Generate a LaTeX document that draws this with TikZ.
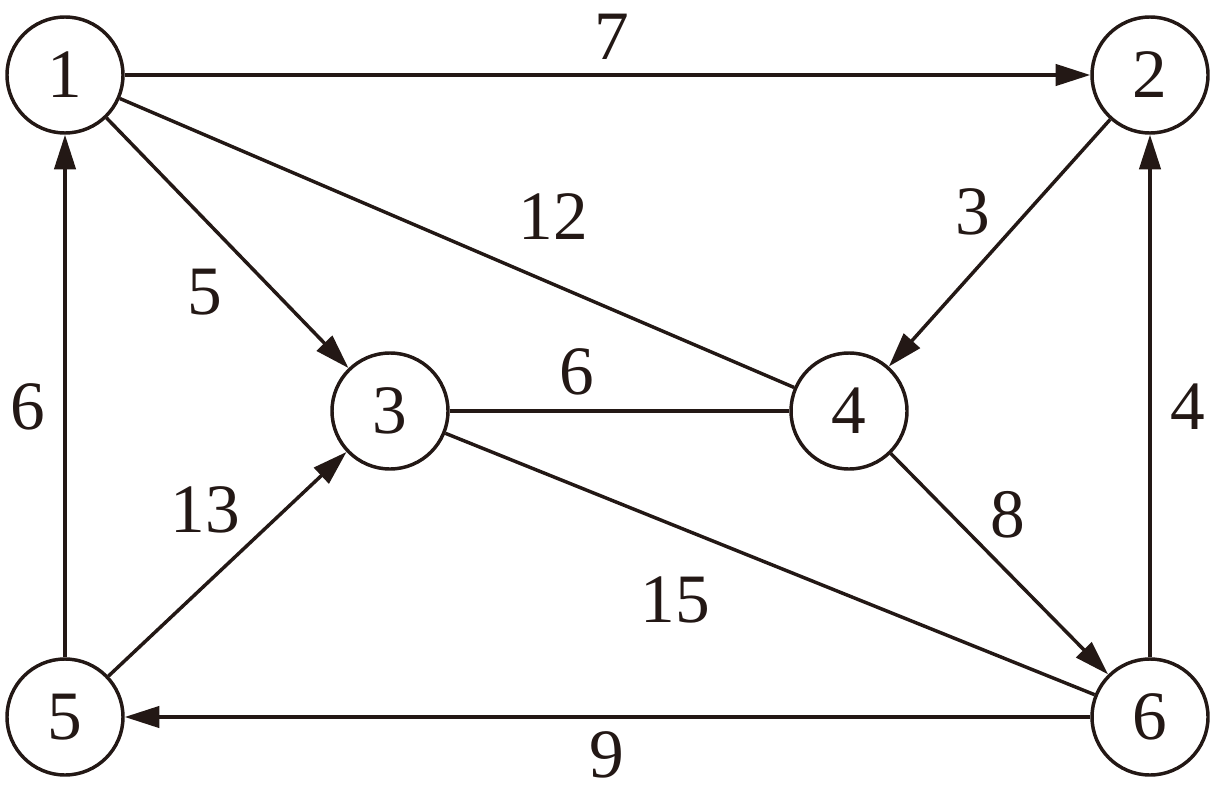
\documentclass[tikz,border=0pt]{standalone}
\usepackage{fontspec}
\setmainfont{Liberation Serif}
\usetikzlibrary{arrows.meta}
\definecolor{ink}{HTML}{231815}
\begin{document}
\begin{tikzpicture}[x=0.75pt,y=-0.75pt,
  vtx/.style={circle,draw=ink,line width=2.6pt,minimum size=87pt,inner sep=0pt,text=ink,font=\fontsize{52}{60}\selectfont},
  lbl/.style={text=ink,inner sep=0pt,font=\fontsize{52}{60}\selectfont},
  edge/.style={draw=ink,line width=2.6pt},
  arr/.style={edge,-{Triangle[length=26pt,width=16pt]}}]
\useasboundingbox (0,0) rectangle (1217,792);
\node[vtx] (n1) at (65,75) {1};
\node[vtx] (n2) at (1150,75) {2};
\node[vtx] (n3) at (390,411) {3};
\node[vtx] (n4) at (849,411) {4};
\node[vtx] (n5) at (65,717) {5};
\node[vtx] (n6) at (1150,717) {6};
\draw[arr] (n1) -- (n2);
\draw[arr] (n1) -- (n3);
\draw[edge] (n1) -- (n4);
\draw[arr] (n2) -- (n4);
\draw[edge] (n3) -- (n4);
\draw[edge] (n3) -- (n6);
\draw[arr] (n4) -- (n6);
\draw[arr] (n5) -- (n1);
\draw[arr] (n5) -- (n3);
\draw[arr] (n6) -- (n2);
\draw[arr] (n6) -- (n5);
\node[lbl] (l12) at (612,37) {7};
\node[lbl] (l14) at (553,217) {12};
\node[lbl] (l13) at (205,292) {5};
\node[lbl] (l24) at (973,212) {3};
\node[lbl] (l34) at (577,372) {6};
\node[lbl] (l51) at (28,407) {6};
\node[lbl] (l62) at (1188,407) {4};
\node[lbl] (l53) at (205,510) {13};
\node[lbl] (l46) at (1008,515) {8};
\node[lbl] (l36) at (675,600) {15};
\node[lbl] (l65) at (607,755) {9};
\end{tikzpicture}
\end{document}
